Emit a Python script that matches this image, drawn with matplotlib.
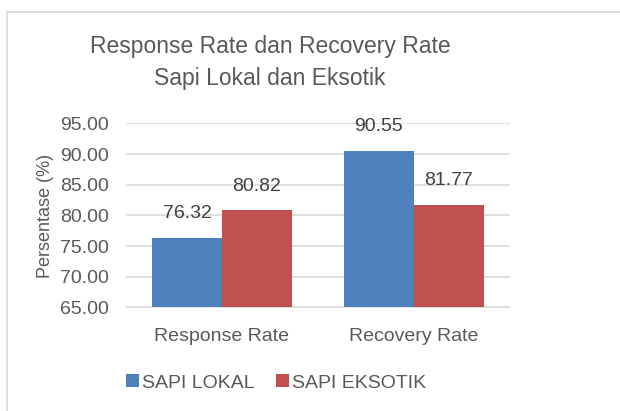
import matplotlib
matplotlib.use("Agg")
import matplotlib.pyplot as plt
from matplotlib.patches import Rectangle

categories = ["Response Rate", "Recovery Rate"]
series_names = ["SAPI LOKAL", "SAPI EKSOTIK"]
sapi_lokal = [76.32, 90.55]
sapi_eksotik = [80.82, 81.77]
y_ticks = [65, 70, 75, 80, 85, 90, 95]

plt.rcParams["font.family"] = ["Liberation Sans", "DejaVu Sans"]
TEXT = "#595959"
BLUE = "#4F81BD"
RED = "#C0504D"

fig = plt.figure(figsize=(6.2, 4.11), dpi=100, facecolor="white")
# chart frame (starts slightly inside the image, runs off right/bottom)
fig.add_artist(Rectangle((7 / 620, -0.1), 1.2, 1 - 12 / 411 + 0.1,
                         transform=fig.transFigure, fill=False,
                         edgecolor="#D9D9D9", linewidth=1.2))

ax = fig.add_axes([126 / 620, 1 - 307.5 / 411, 384 / 620, 184 / 411])
x = list(range(len(categories)))
w = 0.365
b1 = ax.bar([i - w / 2 for i in x], [v - 65 for v in sapi_lokal], w, bottom=65,
            color=BLUE, label=series_names[0], zorder=3)
b2 = ax.bar([i + w / 2 for i in x], [v - 65 for v in sapi_eksotik], w, bottom=65,
            color=RED, label=series_names[1], zorder=3)

for bars, vals in ((b1, sapi_lokal), (b2, sapi_eksotik)):
    for bar, v in zip(bars, vals):
        ax.annotate(f"{v:.2f}", (bar.get_x() + bar.get_width() / 2, v),
                    xytext=(0, 17.5), textcoords="offset points",
                    ha="center", va="center", fontsize=14, color="#404040")

ax.set_xlim(-0.5, 1.5)
ax.set_ylim(65, 95)
ax.set_yticks(y_ticks)
ax.set_yticklabels([f"{t:.2f}" for t in y_ticks], fontsize=14, color=TEXT)
ax.set_xticks(x)
ax.set_xticklabels(categories, fontsize=14, color=TEXT)
ax.tick_params(axis="y", length=0, pad=12)
ax.tick_params(axis="x", length=0, pad=15)
ax.grid(axis="y", color="#D9D9D9", linewidth=1.2, zorder=0)
for s in ax.spines.values():
    s.set_visible(False)
ax.set_ylabel("Persentase (%)", fontsize=13, color=TEXT, labelpad=5)

fig.text(270 / 620, 1 - 47 / 411, "Response Rate dan Recovery Rate",
         ha="center", va="center", fontsize=16.5, color=TEXT)
fig.text(270 / 620, 1 - 79 / 411, "Sapi Lokal dan Eksotik",
         ha="center", va="center", fontsize=16.5, color=TEXT)

fig.legend(handles=[b1, b2], loc="center", bbox_to_anchor=(276 / 620, 1 - 383 / 411),
           ncol=2, frameon=False, fontsize=14, handlelength=0.65, handleheight=0.65,
           handletextpad=0.15, columnspacing=1.1, labelcolor=TEXT)

fig.savefig("out.png", dpi=100, facecolor="white")
